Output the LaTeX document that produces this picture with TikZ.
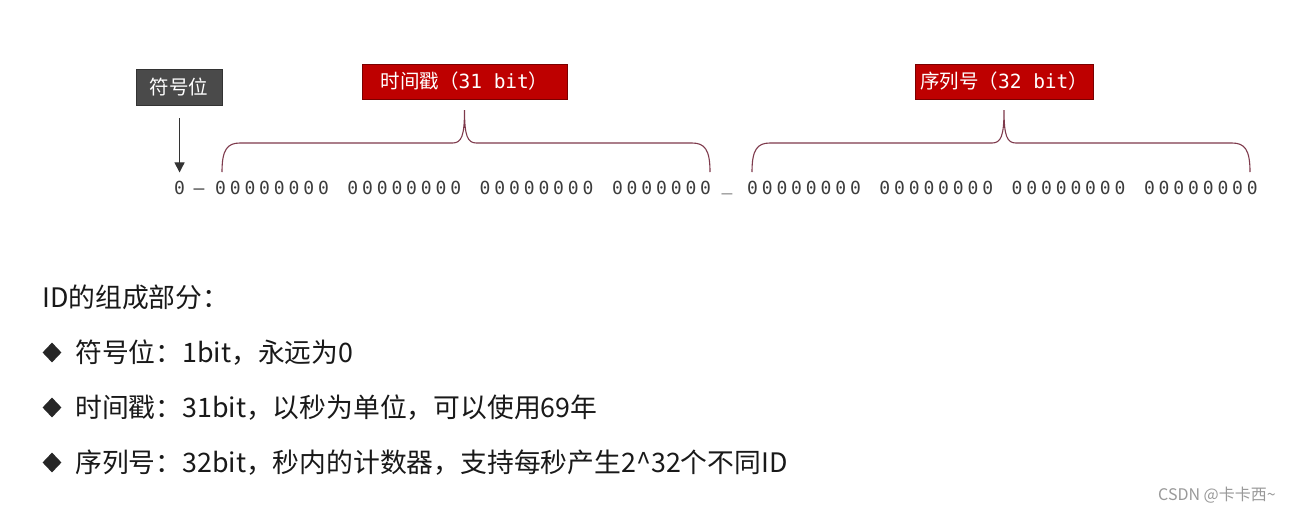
\documentclass[tikz,border=0pt]{standalone}
\usepackage{fontspec}
\setmainfont{Noto Sans CJK SC}
\newfontfamily\monofont{DejaVu Sans Mono}
\usetikzlibrary{arrows.meta,shapes.geometric,calc}
\definecolor{boxred}{HTML}{BE0000}
\definecolor{boxredline}{HTML}{7A0000}
\definecolor{boxgray}{HTML}{4A4A4A}
\definecolor{bracecol}{HTML}{7E3A4C}
\definecolor{bitcol}{HTML}{3C3C3C}
% one digit per fixed cell
\newcommand\bitrow[1]{\ifx\relax#1\else\makebox[14.7pt][c]{#1}\expandafter\bitrow\fi}
% curly brace: left end, right end, tip node
\newcommand\bitbrace[3]{%
  \draw[brace] let \p1=(#1), \p2=(#2), \p3=(#3) in
    (\x1,\y1) .. controls (\x1,\y1+22pt) and (\x1+5pt,\y1+29pt) .. (\x1+18pt,\y1+29pt)
    -- (\x3-12pt,\y1+29pt) .. controls (\x3-3pt,\y1+29pt) and (\x3,\y1+36pt) .. (\x3,\y3-11pt)
    .. controls (\x3,\y1+36pt) and (\x3+3pt,\y1+29pt) .. (\x3+12pt,\y1+29pt)
    -- (\x2-18pt,\y2+29pt) .. controls (\x2-5pt,\y2+29pt) and (\x2,\y2+22pt) .. (\x2,\y2);}
\begin{document}
\begin{tikzpicture}
  [x=1pt,y=-1pt,
   redbox/.style ={draw=boxredline,fill=boxred,text=white,minimum height=35pt,inner sep=0pt,
                   font=\fontsize{19.5pt}{22pt}\selectfont},
   graybox/.style ={draw=black!80,fill=boxgray,text=white,minimum width=86pt,minimum height=36pt,
                    inner sep=0pt,font=\fontsize{19.5pt}{22pt}\selectfont},
   bits/.style ={anchor=base west,inner sep=0pt,text=bitcol,font=\monofont\fontsize{18pt}{20pt}\selectfont},
   brace/.style ={draw=bracecol,line width=1.1pt},
   sigarrow/.style ={draw=black!80,line width=1.1pt,-{Triangle[width=10pt,length=10pt]}},
   item/.style ={anchor=base west,inner sep=0pt,text=black!90,font=\fontsize{26.8pt}{30pt}\selectfont},
   dot/.style ={diamond,fill=black!85,inner sep=0pt,minimum width=19pt,minimum height=20pt}]
  \path[use as bounding box,fill=white] (0,0) rectangle (1291,512);

  % labels
  \node[graybox] (sign) at (179,87) {符号位};
  \node[redbox,minimum width=205pt] (ts) at (464.5,81.5) {时间戳（{\monofont 31 bit}）};
  \node[redbox,minimum width=178pt] (seq) at (1004,81.5) {序列号（{\monofont 32 bit}）};

  % bit row
  \node[bits] (zero) at (172,194) {\bitrow 0\relax};
  \node[bits] (dash) at (191.5,194) {\bitrow –\relax};
  \foreach \k/\b in {0/00000000,1/00000000,2/00000000,3/0000000}
    \node[bits] (t\k) at (213+\k*132.3,194) {\expandafter\bitrow\b\relax};
  \node[bits] (gap) at (721.5,194) {\raisebox{4pt}{\_}};
  \foreach \k/\b in {0/00000000,1/00000000,2/00000000,3/00000000}
    \node[bits] (s\k) at (745+\k*132.3,194) {\expandafter\bitrow\b\relax};

  \draw[sigarrow,shorten <=13pt,shorten >=8pt] (sign.south -| zero.north) -- (zero.north);

  \coordinate (tsL) at (222,172);
  \coordinate (tsR) at (710,172);
  \coordinate (sqL) at (752,172);
  \coordinate (sqR) at (1250,172);
  \bitbrace{tsL}{tsR}{ts.south}
  \bitbrace{sqL}{sqR}{seq.south}

  % list
  \node[item] (head) at (42,307) {ID的组成部分：};
  \foreach \y/\t [count=\i] in {362/{符号位：1bit，永远为0},
      417/{时间戳：31bit，以秒为单位，可以使用69年},
      472/{序列号：32bit，秒内的计数器，支持每秒产生2\textasciicircum32个不同ID}} {
    \node[dot] (d\i) at (52,\y-9.5) {};
    \node[item] (l\i) at (75,\y) {\t};
  }

  \node[anchor=base west,inner sep=0pt,text=black!40,font=\fontsize{16pt}{18pt}\selectfont] (mark)
    at (1158,500) {CSDN @卡卡西\textasciitilde};
\end{tikzpicture}
\end{document}
